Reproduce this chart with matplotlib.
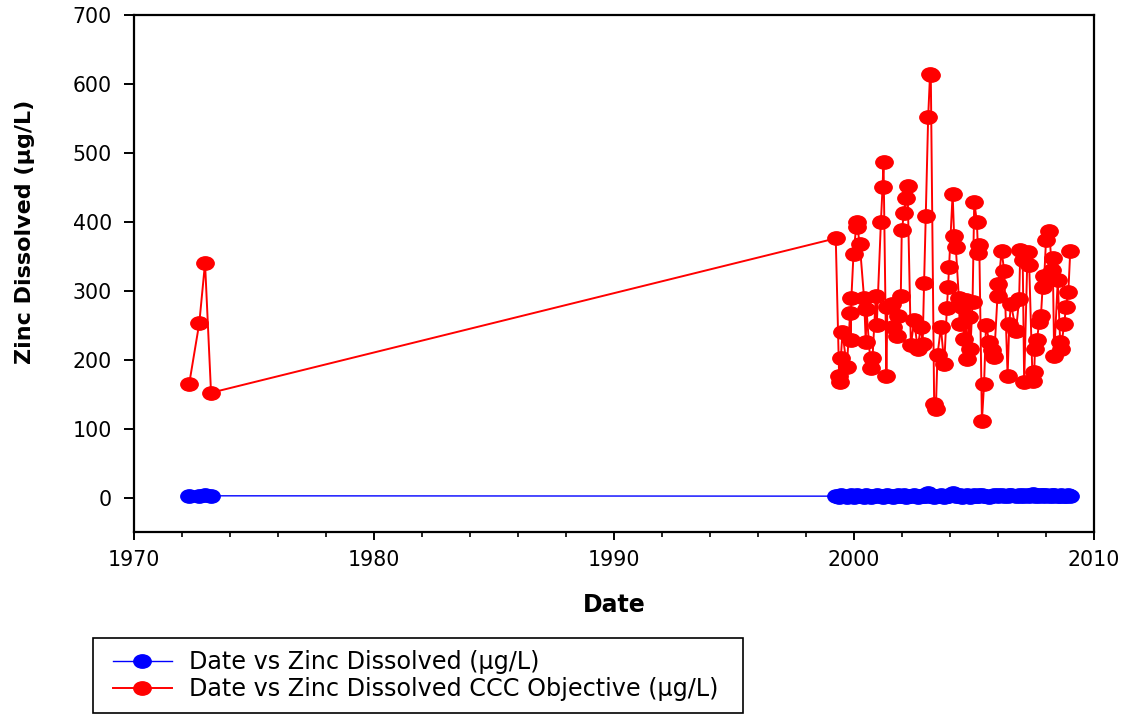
import numpy as np
import matplotlib
matplotlib.use("Agg")
import matplotlib.pyplot as plt
from matplotlib.path import Path
from matplotlib.ticker import MultipleLocator
from matplotlib.lines import Line2D
from matplotlib.legend_handler import HandlerLine2D

# ---------------- data ----------------
dates = [
    1972.30, 1972.72, 1972.96, 1973.21,
    1999.24, 1999.38, 1999.41, 1999.45, 1999.52, 1999.70, 1999.84, 1999.86, 1999.89, 1999.98,
    2000.11, 2000.14, 2000.24, 2000.42, 2000.49, 2000.52, 2000.70, 2000.77, 2000.91, 2000.95,
    2001.12, 2001.19, 2001.23, 2001.35, 2001.39, 2001.60, 2001.64, 2001.78, 2001.84, 2001.95,
    2001.99, 2002.09, 2002.16, 2002.23, 2002.37, 2002.51, 2002.65, 2002.78, 2002.86, 2002.92,
    2002.99, 2003.09, 2003.17, 2003.20, 2003.34, 2003.41, 2003.48, 2003.62, 2003.76, 2003.87,
    2003.92, 2003.96, 2004.11, 2004.17, 2004.24, 2004.37, 2004.40, 2004.52, 2004.59, 2004.66,
    2004.70, 2004.80, 2004.85, 2004.94, 2005.01, 2005.12, 2005.17, 2005.22, 2005.33, 2005.42,
    2005.50, 2005.63, 2005.77, 2005.84, 2005.98, 2006.02, 2006.15, 2006.26, 2006.40, 2006.47,
    2006.54, 2006.75, 2006.88, 2006.93, 2007.03, 2007.09, 2007.23, 2007.30, 2007.44, 2007.51,
    2007.54, 2007.62, 2007.72, 2007.79, 2007.86, 2007.93, 2008.00, 2008.14, 2008.24, 2008.28,
    2008.34, 2008.49, 2008.59, 2008.62, 2008.76, 2008.83, 2008.93, 2009.01,
]

zinc_dissolved = [
    2.5, 2.0, 4.0, 2.5,
    2, 1, 2, 3, 2, 1, 2, 3, 2, 1,
    3, 2, 2, 1, 3, 2, 1, 2, 2, 3,
    2, 1, 2, 2, 3, 2, 1, 2, 3, 2,
    2, 3, 1, 2, 2, 3, 1, 2, 2, 3,
    2, 6, 3, 2, 1, 2, 2, 3, 1, 2,
    2, 3, 6, 3, 2, 2, 3, 1, 2, 2,
    3, 2, 1, 2, 3, 2, 2, 4, 3, 2,
    2, 1, 2, 3, 2, 4, 3, 2, 2, 3,
    4, 2, 3, 2, 4, 2, 3, 2, 5, 3,
    2, 3, 2, 4, 3, 2, 4, 2, 3, 2,
    3, 2, 2, 3, 2, 2, 3, 2,
]

ccc_objective = [
    165, 253, 340, 152,
    376, 176, 168, 202, 240, 189, 268, 228, 289, 354,
    399, 392, 368, 289, 226, 273, 188, 202, 293, 251,
    399, 451, 487, 176, 276, 281, 247, 234, 264, 293,
    388, 413, 435, 452, 221, 257, 216, 247, 223, 311,
    409, 552, 615, 613, 136, 128, 207, 247, 194, 275,
    305, 334, 441, 380, 364, 289, 252, 276, 230, 286,
    201, 262, 216, 284, 429, 400, 355, 366, 111, 165,
    251, 226, 214, 204, 293, 310, 358, 328, 177, 252,
    281, 242, 288, 359, 344, 167, 356, 337, 169, 182,
    216, 228, 255, 264, 306, 322, 373, 387, 330, 347,
    206, 315, 226, 216, 252, 276, 298, 357,
]

series_labels = ["Date vs Zinc Dissolved (\u00b5g/L)",
                 "Date vs Zinc Dissolved CCC Objective (\u00b5g/L)"]
x_ticks = [1970, 1980, 1990, 2000, 2010]
y_ticks = [0, 100, 200, 300, 400, 500, 600, 700]

# ---------------- style ----------------
plt.rcParams['font.family'] = ['DejaVu Sans']

W, H = 1126, 717
fig = plt.figure(figsize=(W / 100, H / 100), dpi=100)
ax = fig.add_axes([134 / W, 1 - 532 / H, (1094 - 134) / W, (532 - 15) / H])

# horizontally stretched ellipse marker (as in the reference)
circ = Path.unit_circle()
ell = Path(circ.vertices * np.array([1.3, 1.0]), circ.codes)

ax.plot(dates, zinc_dissolved, color='#0000ff', lw=1.0, marker=ell,
        markersize=12.5, markerfacecolor='#0000ff', markeredgecolor='#0000ff',
        label=series_labels[0], zorder=3)
ax.plot(dates, ccc_objective, color='#ff0000', lw=1.4, marker=ell,
        markersize=12.5, markerfacecolor='#ff0000', markeredgecolor='#ff0000',
        label=series_labels[1], zorder=2)

ax.set_xlim(1970, 2010)
ax.set_ylim(-50, 700)
ax.set_xticks(x_ticks)
ax.set_yticks(y_ticks)
ax.xaxis.set_minor_locator(MultipleLocator(2))

for s in ax.spines.values():
    s.set_linewidth(1.6)
    s.set_color('black')

ax.tick_params(axis='both', which='major', direction='out', labelsize=14.8,
               width=1.4, colors='black')
ax.tick_params(axis='x', which='major', length=6, pad=7)
ax.tick_params(axis='x', which='minor', length=3.5, width=1.2)
ax.tick_params(axis='y', which='major', length=7, pad=9)

fig.text(25 / W, 1 - 232 / H, "Zinc Dissolved (\u00b5g/L)", rotation=90,
         ha='center', va='center', fontsize=16, fontweight='bold')
fig.text(614 / W, 1 - 605 / H, "Date", ha='center', va='center',
         fontsize=17, fontweight='bold')

leg = fig.legend(loc='upper left',
                 bbox_to_anchor=(93 / W, 1 - 715 / H, 650 / W, 77 / H),
                 mode='expand',
                 frameon=True, fancybox=False, edgecolor='black',
                 framealpha=1, fontsize=17.2, handlelength=2.8,
                 handletextpad=0.72, borderpad=0.5, labelspacing=0.13,
                 borderaxespad=0,
                 handler_map={Line2D: HandlerLine2D(xpad=0.33)})
leg.get_frame().set_linewidth(1.2)

fig.savefig("out.png", dpi=100)
